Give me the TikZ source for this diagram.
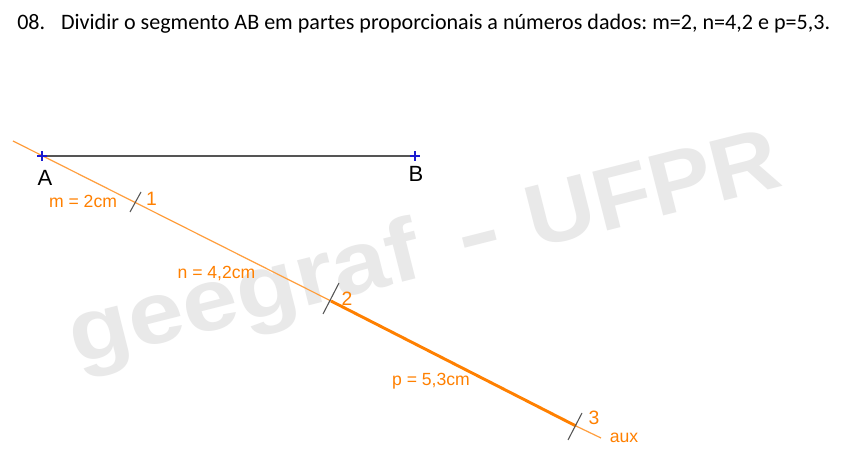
\documentclass[tikz,border=0pt]{standalone}
\usepackage{fontspec}
\setmainfont{Liberation Sans}
\newfontfamily\titlefont{Carlito}
\definecolor{lbl}{HTML}{FF8000}
\definecolor{auxline}{HTML}{FF9E3D}
\definecolor{seg}{HTML}{555555}
\definecolor{mark}{HTML}{1A1AD0}
\definecolor{wm}{HTML}{E9E9E9}
\tikzset{
  orangelabel/.style={text=lbl,font=\fontsize{13.2pt}{15pt}\selectfont,inner sep=0pt},
  digitlabel/.style={text=lbl,font=\fontsize{14.5pt}{16pt}\selectfont,inner sep=0pt},
  ptlabel/.style={text=black,font=\fontsize{16.5pt}{18pt}\selectfont,inner sep=0pt},
  ticks/.style={draw=seg,line width=0.8pt},
  cross/.style={draw=mark,line width=1.1pt},
}
\begin{document}
\begin{tikzpicture}[x=0.75pt,y=-0.75pt]
\useasboundingbox (0,0) rectangle (847,449);
\fill[white] (0,0) rectangle (847,449);
\node[text=wm,font=\fontsize{66pt}{70pt}\selectfont\bfseries,anchor=base west,rotate=14.2,xscale=1.135,transform shape,inner sep=0pt] (wmark) at (76,365) {geegraf\hspace{8pt} \scalebox{1.3}[1]{-}\hspace{1pt} \scalebox{0.95}[1]{UFPR}};
\node[anchor=west,inner sep=0pt,font=\fontsize{16.55pt}{18pt}\titlefont,execute at begin node=\frenchspacing] (title) at (17,24) {08.\hspace{0.72em}Dividir o segmento AB em partes proporcionais a números dados: m=2, n=4,2 e p=5,3.};
\coordinate (A) at (42,156);
\coordinate (B) at (415,156);
\coordinate (S) at (13,141);
\coordinate (E) at (601,438);
\coordinate (P1) at (136,203);
\coordinate (P2) at (331,301);
\coordinate (P3) at (576,426);
\draw[seg,line width=1.7pt] (A) -- (B);
\draw[auxline,line width=0.9pt] (S) -- (P2);
\draw[lbl,line width=2.2pt] (P2) -- (P3);
\draw[auxline,line width=0.9pt] (P3) -- (E);
\foreach \p in {A,B}{
  \draw[cross] ([xshift=-3.5pt]\p) -- ([xshift=3.5pt]\p);
  \draw[cross] ([yshift=-3.5pt]\p) -- ([yshift=3.5pt]\p);
}
\draw[ticks] (130,212) -- (141,192);
\draw[ticks] (323,314) -- (339,283);
\draw[ticks] (568,440) -- (582,413);
\node[ptlabel] (la) at (45,178) {A};
\node[ptlabel] (lb) at (416,174) {B};
\node[orangelabel] (lm) at (83,201) {m = 2cm};
\node[orangelabel] (ln) at (216.5,273) {n = 4,2cm};
\node[orangelabel] (lp) at (431,381.5) {p = 5,3cm};
\node[digitlabel] (l1) at (151.5,198.5) {1};
\node[digitlabel] (l2) at (347,298.5) {2};
\node[digitlabel] (l3) at (594,417.5) {3};
\node[orangelabel] (laux) at (624,437.5) {aux};
\end{tikzpicture}
\end{document}
